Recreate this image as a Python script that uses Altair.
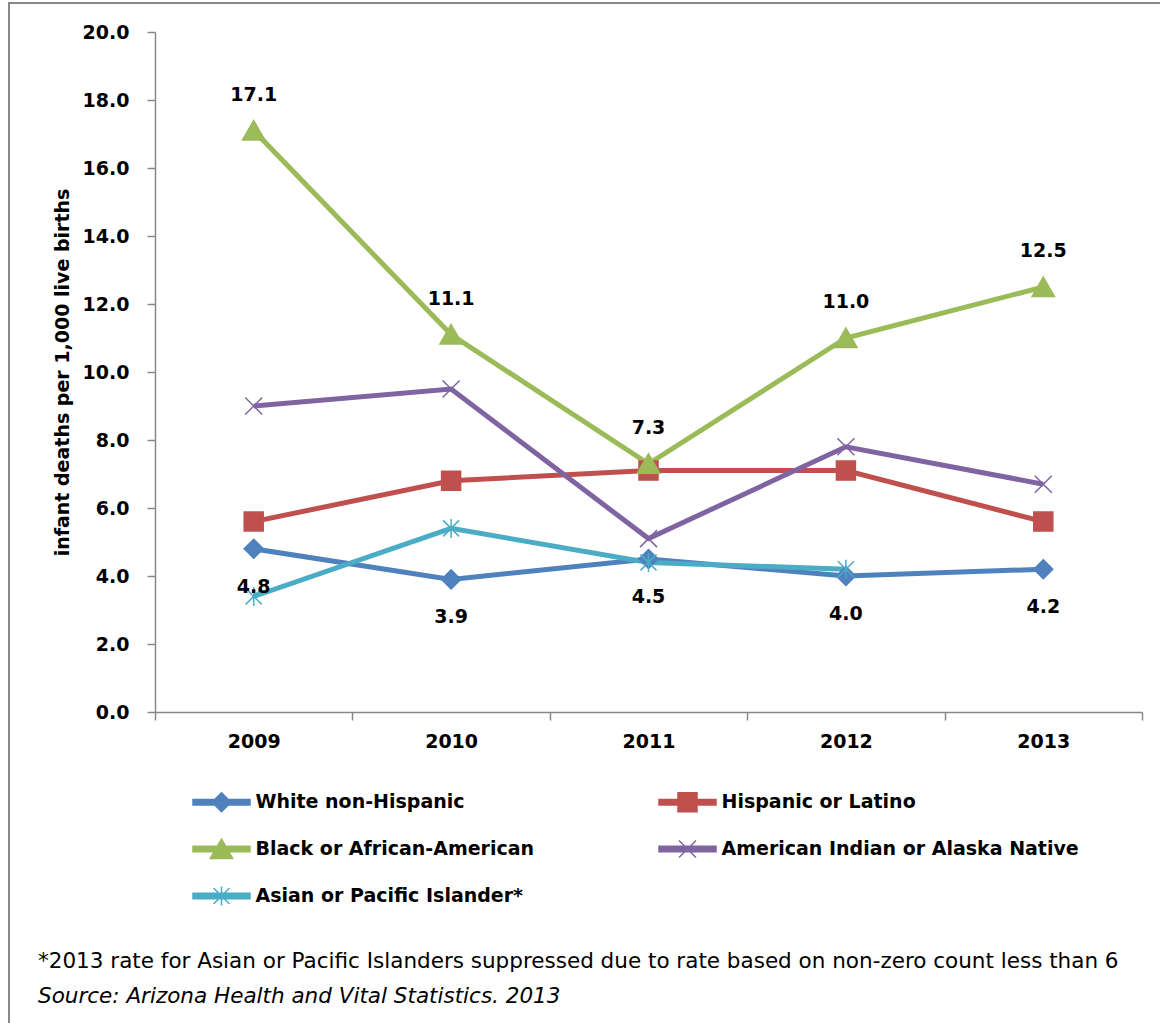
import altair as alt
import pandas as pd

# Infant mortality rates (infant deaths per 1,000 live births), Arizona
years = ["2009", "2010", "2011", "2012", "2013"]
series_names = [
    "White non-Hispanic",
    "Hispanic or Latino",
    "Black or African-American",
    "American Indian or Alaska Native",
    "Asian or Pacific Islander*",
]
white = [4.8, 3.9, 4.5, 4.0, 4.2]
hispanic = [5.6, 6.8, 7.1, 7.1, 5.6]
black = [17.1, 11.1, 7.3, 11.0, 12.5]
am_indian = [9.0, 9.5, 5.1, 7.8, 6.7]
asian = [3.4, 5.4, 4.4, 4.2, None]  # 2013 value suppressed
y_ticks = [0, 2, 4, 6, 8, 10, 12, 14, 16, 18, 20]

footnote = "*2013 rate for Asian or Pacific Islanders suppressed due to rate based on non-zero count less than 6"
source_note = "Source: Arizona Health and Vital Statistics. 2013"

colors = ["#4F81BD", "#C0504D", "#9BBB59", "#8064A2", "#4BACC6"]

# marker paths (unit box scaled by sqrt(size)/2)
DIAMOND = "M0,-0.95L0.95,0L0,0.95L-0.95,0Z"
SQUARE = "M-0.95,-0.95H0.95V0.95H-0.95Z"
TRIANGLE = "M0,-1L1.12,0.95H-1.12Z"
XMARK = "M-0.85,-0.85L0.85,0.85M0.85,-0.85L-0.85,0.85"
STAR = "M-0.8,-0.8L0.8,0.8M0.8,-0.8L-0.8,0.8M0,-0.95L0,0.95"
plot_shapes = [DIAMOND, SQUARE, TRIANGLE, XMARK, STAR]

# legend symbols: a thick line segment with the marker on top
BAR = "M-2.85,-0.28H2.85V0.28H-2.85Z"
legend_shapes = [BAR + s for s in plot_shapes]

rows = []
for name, vals in zip(series_names, [white, hispanic, black, am_indian, asian]):
    for yr, v in zip(years, vals):
        if v is not None:
            rows.append({"year": yr, "series": name, "rate": v})
df = pd.DataFrame(rows)

FONT = "DejaVu Sans"
AXIS_GRAY = "#888888"

color_scale = alt.Scale(domain=series_names, range=colors)

x_enc = alt.X(
    "year:O",
    sort=years,
    scale=alt.Scale(type="band", paddingInner=0, paddingOuter=0),
    axis=alt.Axis(
        title=None,
        labelAngle=0,
        labelFont=FONT,
        labelFontSize=19,
        labelFontWeight="bold",
        labelColor="black",
        labelPadding=12,
        tickBand="extent",
        tickSize=8,
        tickColor=AXIS_GRAY,
        tickWidth=1.5,
        domainColor=AXIS_GRAY,
        domainWidth=1.5,
        grid=False,
    ),
)
y_enc = alt.Y(
    "rate:Q",
    scale=alt.Scale(domain=[0, 20], nice=False),
    axis=alt.Axis(
        values=y_ticks,
        format=".1f",
        title="infant deaths per 1,000 live births",
        titleFont=FONT,
        titleFontSize=19,
        titleFontWeight="bold",
        titleColor="black",
        titlePadding=10,
        labelFont=FONT,
        labelFontSize=19,
        labelFontWeight="bold",
        labelColor="black",
        labelPadding=18,
        tickSize=8,
        tickColor=AXIS_GRAY,
        tickWidth=1.5,
        domainColor=AXIS_GRAY,
        domainWidth=1.5,
        grid=False,
    ),
)

base = alt.Chart(df)

lines = base.mark_line(strokeWidth=5).encode(
    x=x_enc,
    y=y_enc,
    color=alt.Color("series:N", scale=color_scale, legend=None),
)

points = base.mark_point(filled=True, size=400, opacity=1, strokeWidth=1.5).encode(
    x=x_enc,
    y=y_enc,
    fill=alt.Fill("series:N", scale=color_scale, legend=None),
    stroke=alt.Stroke("series:N", scale=color_scale, legend=None),
    shape=alt.Shape("series:N", scale=alt.Scale(domain=series_names, range=plot_shapes), legend=None),
)

label_style = dict(font=FONT, fontSize=19, fontWeight="bold", color="black")
labels_black = base.transform_filter(
    alt.datum.series == "Black or African-American"
).mark_text(dy=-36, **label_style).encode(
    x=x_enc, y=y_enc, text=alt.Text("rate:Q", format=".1f")
)
labels_white = base.transform_filter(
    alt.datum.series == "White non-Hispanic"
).mark_text(dy=38, **label_style).encode(
    x=x_enc, y=y_enc, text=alt.Text("rate:Q", format=".1f")
)

legend = alt.Legend(
    title=None,
    orient="none",
    direction="horizontal",
    legendX=38,
    legendY=759,
    columns=2,
    columnPadding=121,
    rowPadding=21,
    padding=0,
    symbolSize=400,
    symbolOffset=17.5,
    symbolStrokeWidth=1.5,
    labelOffset=23,
    labelFont=FONT,
    labelFontSize=19,
    labelFontWeight="bold",
    labelColor="black",
    labelLimit=600,
)

legend_layer = base.transform_filter("false").mark_point(
    filled=True, size=400, opacity=1, strokeWidth=1.5
).encode(
    x=x_enc,
    y=y_enc,
    fill=alt.Fill("series:N", scale=color_scale, legend=legend),
    stroke=alt.Stroke("series:N", scale=color_scale, legend=legend),
    shape=alt.Shape("series:N", scale=alt.Scale(domain=series_names, range=legend_shapes), legend=legend),
)

frame = alt.Chart(pd.DataFrame({"k": [0]})).mark_rect(
    fill="white", fillOpacity=0, stroke=AXIS_GRAY, strokeWidth=2
).encode(
    x=alt.value(-146), x2=alt.value(1100), y=alt.value(-29), y2=alt.value(1100)
)

note1 = alt.Chart(pd.DataFrame({"t": [footnote]})).mark_text(
    align="left", baseline="middle", font=FONT, fontSize=21.5, color="black"
).encode(text="t:N", x=alt.value(-117), y=alt.value(930))

note2 = alt.Chart(pd.DataFrame({"t": [source_note]})).mark_text(
    align="left", baseline="middle", font=FONT, fontSize=21.5, fontStyle="italic", color="black"
).encode(text="t:N", x=alt.value(-117), y=alt.value(965))

chart = (
    alt.layer(frame, lines, points, labels_black, labels_white, legend_layer, note1, note2)
    .resolve_scale(fill="independent", stroke="independent", shape="independent")
    .properties(
        width=987,
        height=680,
        autosize="none",
        padding={"left": 155, "top": 32, "right": 18, "bottom": 311},
        background="white",
    )
    .configure_view(stroke=None)
)

chart.save("out.html", embed_options={"renderer": "svg", "actions": False})
